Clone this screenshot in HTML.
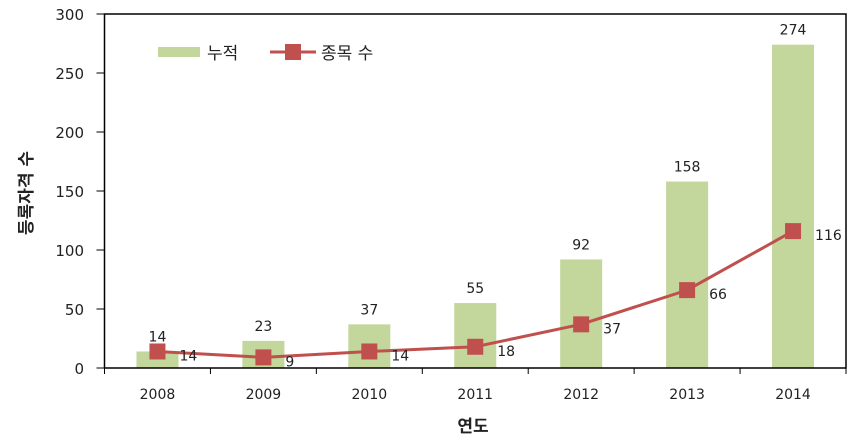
<!DOCTYPE html>
<html><head><meta charset="utf-8"><style>
body{margin:0;background:#fff;}
svg{display:block;font-family:"DejaVu Sans","Liberation Sans","Noto Sans CJK KR",sans-serif;}
</style></head><body>
<svg id="c" width="867" height="440"></svg>
<script>
const categories=["2008","2009","2010","2011","2012","2013","2014"];
const cumulative=[14,23,37,55,92,158,274];
const counts=[14,9,14,18,37,66,116];
const yTicks=[0,50,100,150,200,250,300];
const NS="http://www.w3.org/2000/svg";
const svg=document.getElementById('c');
const x0=104.5,x1=846,y0=368,yTop=14;
const bw=(x1-x0)/categories.length;
const xs=i=>x0+bw*(i+0.5);
const ys=v=>y0-(v/300)*(y0-yTop);
function mk(t,a,txt){const e=document.createElementNS(NS,t);for(const k in a)e.setAttribute(k,a[k]);if(txt!==undefined)e.textContent=txt;svg.appendChild(e);return e;}
let e;
yTicks.forEach(v=>{
 e=mk('text',{x:84,y:ys(v)+6,'text-anchor':'end','font-size':15,fill:'#222'},v);
 
 
 e=mk('line',{x1:x0-8,x2:x0,y1:ys(v),y2:ys(v),stroke:'#000'});
 
 
});
cumulative.forEach((v,i)=>{
 e=mk('rect',{x:xs(i)-21,y:ys(v),width:42,height:y0-ys(v),fill:'#c3d69b'});
 
 
 e=mk('text',{x:xs(i),y:ys(v)-10,'text-anchor':'middle','font-size':14,fill:'#222'},v);
 
 
 e=mk('text',{x:xs(i),y:399,'text-anchor':'middle','font-size':14,fill:'#222'},categories[i]);
 
 
});
for(let i=0;i<=categories.length;i++){
 e=mk('line',{x1:x0+bw*i,x2:x0+bw*i,y1:y0,y2:y0+6,stroke:'#000'});
 
 
}
e=mk('rect',{x:x0,y:yTop,width:x1-x0,height:y0-yTop,fill:'none',stroke:'#000','stroke-width':1.5});


e=mk('line',{x1:x0-8,x2:x0,y1:yTop,y2:yTop,stroke:'#000'});


e=mk('polyline',{points:counts.map((v,i)=>xs(i)+','+ys(v)).join(' '),fill:'none',stroke:'#c0504d','stroke-width':3});


counts.forEach((v,i)=>{
 e=mk('rect',{x:xs(i)-8,y:ys(v)-8,width:16,height:16,fill:'#c0504d'});
 
 
 e=mk('text',{x:xs(i)+22,y:ys(v)+9,'font-size':14,fill:'#222'},v);
 
 
});
e=mk('rect',{x:158,y:47,width:42,height:10,fill:'#c3d69b'});


e=mk('text',{x:207,y:59,'font-size':17,fill:'#222'},'누적');


e=mk('line',{x1:270,x2:316,y1:52,y2:52,stroke:'#c0504d','stroke-width':3});


e=mk('rect',{x:285,y:44,width:16,height:16,fill:'#c0504d'});


e=mk('text',{x:321,y:59,'font-size':17,fill:'#222'},'종목 수');


e=mk('text',{x:473,y:432,'text-anchor':'middle','font-size':17,'font-weight':'bold',fill:'#222'},'연도');


e=mk('text',{x:0,y:0,'text-anchor':'middle','font-size':17,'font-weight':'bold',fill:'#222',transform:'translate(32,193) rotate(-90)'},'등록자격 수');


</script>
</body></html>
